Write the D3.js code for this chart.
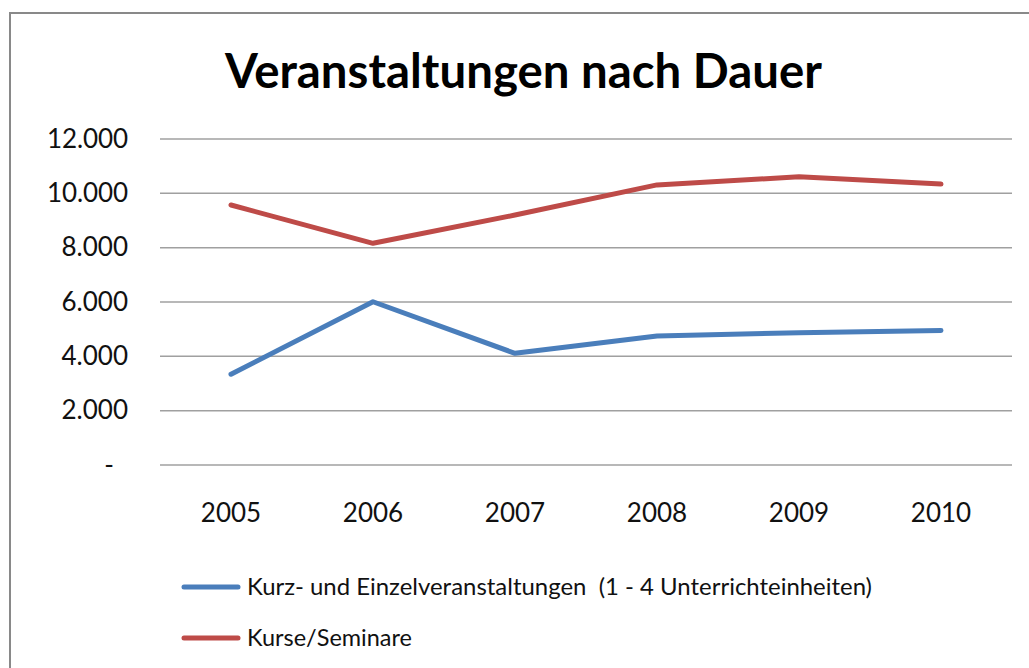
<!DOCTYPE html>
<html>
<head>
<meta charset="utf-8">
<script src="https://cdn.jsdelivr.net/npm/d3@7"></script>
<style>
  body { margin: 0; background: #fff; }
  svg { display: block; font-family: Lato, "Noto Sans", sans-serif; }
</style>
</head>
<body>
<div id="chart"></div>
<script>
const years = ["2005", "2006", "2007", "2008", "2009", "2010"];
const kurzValues = [3340, 6010, 4110, 4750, 4870, 4950];
const kurseValues = [9570, 8160, 9200, 10310, 10610, 10340];
const seriesNames = ["Kurz- und Einzelveranstaltungen  (1 - 4 Unterrichteinheiten)", "Kurse/Seminare"];
const yTicks = [0, 2000, 4000, 6000, 8000, 10000, 12000];
const titleText = "Veranstaltungen nach Dauer";

const width = 1029, height = 668;
const margin = {top: 139, right: 17, bottom: 203, left: 160};
const colors = ["#4a7ebb", "#be4b48"];

const svg = d3.select("#chart")
  .append("svg")
  .attr("width", width)
  .attr("height", height);

// chart frame
svg.append("rect")
  .attr("x", 10).attr("y", 13)
  .attr("width", width + 20).attr("height", height + 20)
  .attr("fill", "#fff")
  .attr("stroke", "#898989")
  .attr("stroke-width", 2);

svg.append("text")
  .attr("x", 225).attr("y", 88)
  .attr("textLength", 597)
  .attr("lengthAdjust", "spacingAndGlyphs")
  .style("font-size", "47px")
  .style("font-weight", "bold")
  .attr("fill", "#000")
  .text(titleText);

const x = d3.scaleBand()
  .domain(years)
  .range([margin.left, width - margin.right]);

const y = d3.scaleLinear()
  .domain([0, 12000])
  .range([height - margin.bottom, margin.top]);

// gridlines
svg.append("g")
  .selectAll("line")
  .data(yTicks)
  .join("line")
  .attr("x1", margin.left)
  .attr("x2", width - margin.right)
  .attr("y1", d => y(d))
  .attr("y2", d => y(d))
  .attr("stroke", "#a0a0a0")
  .attr("stroke-width", 1.5);

const fmt = d => d === 0 ? "-" : d3.format(",")(d).replace(/,/g, ".");

const yAxis = svg.append("g")
  .attr("transform", "translate(" + (margin.left - 32) + ",0)")
  .call(d3.axisLeft(y).tickValues(yTicks).tickFormat(fmt).tickSize(0));
yAxis.select(".domain").remove();
yAxis.selectAll("text")
  .attr("x", d => d === 0 ? -14 : 0)
  .attr("textLength", d => d >= 10000 ? 81 : null)
  .style("font-size", "26px")
  .style("font-family", "Lato, sans-serif")
  .attr("fill", "#111");

const xAxis = svg.append("g")
  .attr("transform", "translate(0," + (height - margin.bottom) + ")")
  .call(d3.axisBottom(x).tickSize(0));
xAxis.select(".domain").remove();
xAxis.selectAll("text")
  .attr("dy", 0)
  .attr("y", 57)
  .style("font-size", "26px")
  .style("font-family", "Lato, sans-serif")
  .attr("fill", "#111");

const line = d3.line()
  .x((d, i) => x(years[i]) + x.bandwidth() / 2)
  .y(d => y(d));

[kurzValues, kurseValues].forEach((vals, i) => {
  svg.append("path")
    .datum(vals)
    .attr("d", line)
    .attr("fill", "none")
    .attr("stroke", colors[i])
    .attr("stroke-width", 5)
    .attr("stroke-linejoin", "round")
    .attr("stroke-linecap", "round");
});

// legend
const legendY = [587, 638];
const legendLen = [625, 165];
const legend = svg.append("g");
seriesNames.forEach((name, i) => {
  legend.append("line")
    .attr("x1", 184).attr("x2", 238)
    .attr("y1", legendY[i]).attr("y2", legendY[i])
    .attr("stroke", colors[i])
    .attr("stroke-width", 5)
    .attr("stroke-linecap", "round");
  legend.append("text")
    .attr("x", 247)
    .attr("y", legendY[i] + 8)
    .attr("textLength", legendLen[i])
    .attr("lengthAdjust", "spacingAndGlyphs")
    .style("font-size", "24px")
    .style("white-space", "pre")
    .attr("fill", "#111")
    .text(name);
});
</script>
</body>
</html>
